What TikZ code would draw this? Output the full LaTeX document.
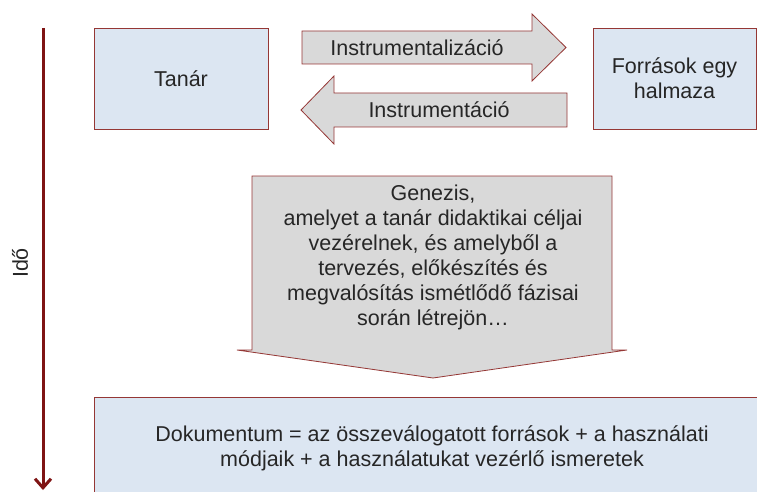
\documentclass[tikz,border=0pt]{standalone}
\usepackage{fontspec}
\setmainfont{Liberation Sans}
\usetikzlibrary{arrows.meta}
\definecolor{boxblue}{HTML}{DCE6F2}
\definecolor{arrowgray}{HTML}{D9D9D9}
\definecolor{edgered}{HTML}{953735}
\definecolor{timered}{HTML}{7F1414}
\begin{document}
\begin{tikzpicture}[x=1pt,y=-1pt,
                every node/.style={font=\fontsize{21.5}{25}\selectfont, text=black!85, align=center},
                actor/.style={draw=edgered, fill=boxblue, line width=0.8pt, inner sep=0pt},
                blockarrow/.style={draw=edgered, fill=arrowgray, line width=0.8pt}]
            \useasboundingbox (0,0) rectangle (757,492);
            \clip (0,0) rectangle (757,492);
            \coordinate (timetop) at (43,28);
            \coordinate (timeend) at (43,490);
            \draw[timered, line width=3pt, -{Straight Barb[length=9pt,width=16pt]}] (timetop) -- (timeend);
            \node[rotate=90] (ido) at (20,263) {Idő};
            \node[actor, minimum width=174pt, minimum height=101pt] (tanar) at (181,78.5) {Tanár};
            \node[actor, minimum width=163pt, minimum height=101pt] (forrasok) at (674.5,78.5) {Források egy\\halmaza};
            \draw[blockarrow] (302,31) -- (532,31) -- (532,14) -- (566,47.5) -- (532,81) -- (532,64) -- (302,64) -- cycle;
            \node (instrumentalizacio) at (417,47.5) {Instrumentalizáció};
            \draw[blockarrow] (567,93) -- (334,93) -- (334,76) -- (301,110) -- (334,144) -- (334,127) -- (567,127) -- cycle;
            \node (instrumentacio) at (439,110) {Instrumentáció};
            \draw[blockarrow] (252,176) -- (612,176) -- (612,350) -- (627,350) -- (433,378) -- (237,350) -- (252,350) -- cycle;
            \node (genezis) at (433,257.5) {Genezis,\\amelyet a tanár didaktikai céljai\\vezérelnek, és amelyből a\\tervezés, előkészítés és\\megvalósítás ismétlődő fázisai\\során létrejön…};
            \node[actor, minimum width=676pt, minimum height=103pt] (dokumentum) at (432,448.5) {Dokumentum = az összeválogatott források + a használati\\módjaik + a használatukat vezérlő ismeretek};
        \end{tikzpicture}
\end{document}
